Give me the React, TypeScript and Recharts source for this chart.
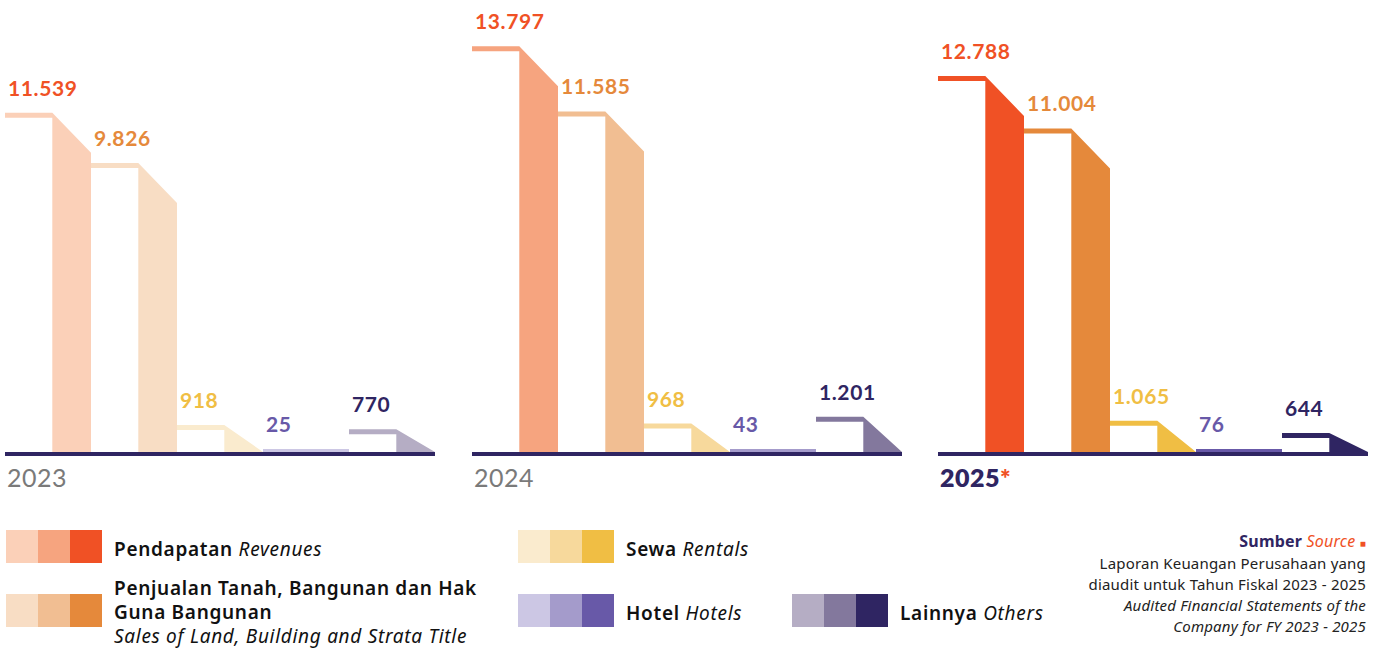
import React from "react";
import { BarChart, Bar, XAxis, YAxis, Cell, LabelList, ReferenceLine } from "recharts";

const categories = ["Pendapatan", "Penjualan", "Sewa", "Hotel", "Lainnya"];
const years = ["2023", "2024", "2025"];
const values2023 = [11539, 9826, 918, 25, 770];
const values2024 = [13797, 11585, 968, 43, 1201];
const values2025 = [12788, 11004, 1065, 76, 644];

// one shade per year, lightest to darkest
const revenueColors = ["#FBD0B8", "#F6A47F", "#F05125"];
const salesColors = ["#F8DDC4", "#F1BE92", "#E5893B"];
const rentalColors = ["#FAEBCE", "#F7D99C", "#F0BE44"];
const hotelColors = ["#CCC7E4", "#A49BCB", "#6859A8"];
const otherColors = ["#B5ADC4", "#83789D", "#2F2562"];
const palette = [revenueColors, salesColors, rentalColors, hotelColors, otherColors];

const NAVY = "#2F2562";
const FONT = "Lato, 'Open Sans', sans-serif";
const TEXT_FONT = "'Noto Sans', 'Open Sans', sans-serif";

const fmt = (v: number) => {
  const s = String(v);
  return s.length > 3 ? s.slice(0, s.length - 3) + "." + s.slice(-3) : s;
};

// band on the left, column with a slanted top on the right
function SlopeBar(props: any) {
  const { x, y, width, height, fill } = props;
  const base = y + height;
  const top = Math.min(y, base - 3);
  const xc = x + width * 0.55;
  const xr = x + width;
  const t = Math.min(5, base - top);
  const yr = base - top < 6 ? top : Math.min(top + 40, base);
  const pts = [
    [x, top],
    [xc, top],
    [xr, yr],
    [xr, base],
    [xc, base],
    [xc, top + t],
    [x, top + t],
  ]
    .map((p) => p.join(","))
    .join(" ");
  return <polygon points={pts} fill={fill} />;
}

function ValueLabel(props: any) {
  const { x, y, height, value, index } = props;
  const base = y + height;
  const top = Math.min(y, base - 3);
  return (
    <text
      x={x + 3}
      y={top - 17}
      fill={palette[index][2]}
      fontFamily={FONT}
      fontWeight={700}
      fontSize={21}
      letterSpacing={0.6}
    >
      {fmt(value)}
    </text>
  );
}

function Panel({ values, yearIdx, left }: { values: number[]; yearIdx: number; left: number }) {
  const data = categories.map((name, i) => ({ name, value: values[i] }));
  const last = yearIdx === 2;
  return (
    <div style={{ position: "absolute", left: left - 5, top: 0 }}>
      <BarChart
        width={440}
        height={470}
        data={data}
        margin={{ top: 11, right: 5, bottom: 18, left: 5 }}
        barCategoryGap={0}
      >
        <XAxis dataKey="name" hide />
        <YAxis hide domain={[0, 15000]} />
        <Bar dataKey="value" isAnimationActive={false} shape={(p: any) => <SlopeBar {...p} />}>
          {data.map((d, i) => (
            <Cell key={d.name} fill={palette[i][yearIdx]} />
          ))}
          <LabelList dataKey="value" content={(p: any) => <ValueLabel {...p} />} />
        </Bar>
        <ReferenceLine
          y={0}
          shape={(p: any) => (
            <rect x={p.x1} y={p.y1} width={p.x2 - p.x1} height={4} fill={NAVY} />
          )}
        />
      </BarChart>
      <div
        style={{
          position: "absolute",
          left: 7,
          top: 462,
          fontFamily: FONT,
          fontSize: 25,
          letterSpacing: 0.5,
          fontWeight: last ? 800 : 400,
          color: last ? NAVY : "#7A7A7A",
          lineHeight: "30px",
        }}
      >
        {years[yearIdx]}
        {last && <span style={{ color: "#F05125" }}>*</span>}
      </div>
    </div>
  );
}

function Swatch({ colors, left, top }: { colors: string[]; left: number; top: number }) {
  return (
    <div style={{ position: "absolute", left, top, display: "flex" }}>
      {colors.map((c) => (
        <div key={c} style={{ width: 32, height: 33, background: c }} />
      ))}
    </div>
  );
}

const legendText: React.CSSProperties = {
  position: "absolute",
  fontFamily: TEXT_FONT,
  fontSize: 19,
  letterSpacing: 0.7,
  color: "#111",
  lineHeight: "24px",
  whiteSpace: "nowrap",
};

export default function App() {
  return (
    <div
      style={{
        position: "absolute",
        left: 0,
        top: 0,
        width: 1380,
        height: 648,
        background: "#fff",
        overflow: "hidden",
      }}
    >
      <Panel values={values2023} yearIdx={0} left={5} />
      <Panel values={values2024} yearIdx={1} left={472} />
      <Panel values={values2025} yearIdx={2} left={938} />

      <Swatch colors={revenueColors} left={6} top={530} />
      <div style={{ ...legendText, left: 114, top: 537 }}>
        <b style={{ fontWeight: 600 }}>Pendapatan</b> <i>Revenues</i>
      </div>
      <Swatch colors={salesColors} left={6} top={594} />
      <div style={{ ...legendText, left: 114, top: 576 }}>
        <b style={{ fontWeight: 600 }}>Penjualan Tanah, Bangunan dan Hak</b>
        <br />
        <b style={{ fontWeight: 600 }}>Guna Bangunan</b>
        <br />
        <i>Sales of Land, Building and Strata Title</i>
      </div>

      <Swatch colors={rentalColors} left={518} top={530} />
      <div style={{ ...legendText, left: 626, top: 537 }}>
        <b style={{ fontWeight: 600 }}>Sewa</b> <i>Rentals</i>
      </div>
      <Swatch colors={hotelColors} left={518} top={594} />
      <div style={{ ...legendText, left: 626, top: 601 }}>
        <b style={{ fontWeight: 600 }}>Hotel</b> <i>Hotels</i>
      </div>
      <Swatch colors={otherColors} left={792} top={594} />
      <div style={{ ...legendText, left: 900, top: 601 }}>
        <b style={{ fontWeight: 600 }}>Lainnya</b> <i>Others</i>
      </div>

      <div
        style={{
          position: "absolute",
          right: 14,
          top: 531,
          textAlign: "right",
          fontFamily: TEXT_FONT,
          fontSize: 15,
          letterSpacing: 0.2,
          lineHeight: "21px",
          color: "#222",
          whiteSpace: "nowrap",
        }}
      >
        <div style={{ lineHeight: "20px", fontSize: 16 }}>
          <b style={{ color: NAVY }}>Sumber</b>{" "}
          <i style={{ color: "#F05125" }}>Source</i>{" "}
          <span style={{ color: "#F05125", fontSize: 10 }}>■</span>
        </div>
        <div>Laporan Keuangan Perusahaan yang</div>
        <div>diaudit untuk Tahun Fiskal 2023 - 2025</div>
        <div style={{ fontStyle: "italic" }}>Audited Financial Statements of the</div>
        <div style={{ fontStyle: "italic" }}>Company for FY 2023 - 2025</div>
      </div>
    </div>
  );
}
